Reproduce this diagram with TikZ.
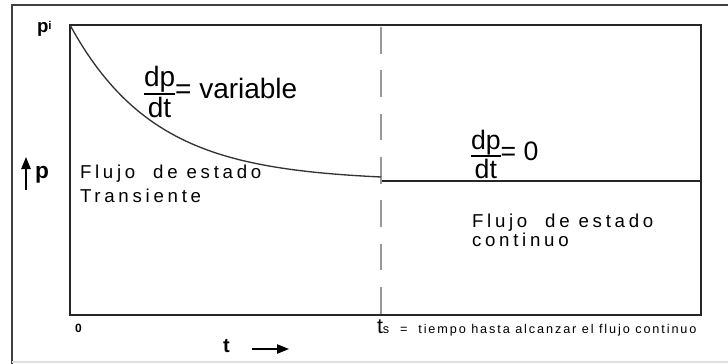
\documentclass[tikz,border=0pt]{standalone}
\usepackage{amsmath}
\usepackage{fontspec}
\setmainfont{Liberation Sans}
\usetikzlibrary{arrows.meta}

\newcommand{\cociente}[2]{\vcenter{\offinterlineskip\halign{\hfil##\hfil\cr #1\cr\noalign{\kern0.5pt\hrule height 1.1pt\kern1.5pt}#2\cr}}}

\begin{document}
\begin{tikzpicture}[x=0.75pt,y=-0.75pt]
	\tikzstyle{marco}=[draw=black!75,line width=1.1pt]
	\tikzstyle{eje}=[draw=black!85,line width=1.5pt]
	\tikzstyle{flecha}=[draw=black,line width=1pt,-{Triangle[length=9pt,width=7pt]}]
	\tikzstyle{etiqueta}=[inner sep=0pt,outer sep=0pt]
	\tikzstyle{flujo}=[etiqueta,align=left,font=\fontsize{14}{17.3}\selectfont\addfontfeatures{LetterSpace=20}]
	\useasboundingbox (0,0) rectangle (728,364);
	% marco exterior
	\draw[marco] (740,5) -- (12,5) -- (12,364);
	\draw[draw=black!12,line width=0.8pt] (12,362) -- (740,362);
	% ejes y regiones
	\coordinate (c0) at (70,25);
	\coordinate (c1) at (381,181);
	\draw[eje] (c0) rectangle (701,315);
	\draw[eje,line width=1.2pt] (c1) -- (701,181);
	\draw[draw=black!40,line width=1.6pt,dash pattern=on 20pt off 12.5pt] (381,27) -- (381,326);
	\draw[draw=black!80,line width=1pt] plot[domain=70:381,samples=60] (\x,{181-156*exp(-(\x-70)/85)});
	% etiquetas
	\node[etiqueta,anchor=base west,font=\fontsize{14}{14}\bfseries\selectfont] (pi) at (37,32) {p\raisebox{1.6pt}{\fontsize{8.5}{8.5}\selectfont i}};
	\node[etiqueta,anchor=base west,font=\fontsize{17}{17}\bfseries\selectfont] (peje) at (35,178) {p};
	\coordinate (pa0) at (26,190);
	\coordinate (pa1) at (26,157);
	\draw[flecha] (pa0) -- (pa1);
	\node[flujo,anchor=base west] (trans) at (80,202) {Flujo~ de estado\\Transiente};
	\node[etiqueta,anchor=west,font=\fontsize{21}{21}\selectfont] (var) at (144,92) {$\cociente{dp}{dt}\text{= variable}$};
	\node[etiqueta,anchor=west,font=\fontsize{20}{20}\selectfont] (cero) at (471,154) {$\cociente{dp}{dt}\text{= 0}$};
	\node[flujo,anchor=base west,font=\fontsize{14}{14}\selectfont\addfontfeatures{LetterSpace=20}] (cont) at (472,246) {Flujo~ de estado\\continuo};
	\node[etiqueta,anchor=base west,font=\fontsize{9}{9}\bfseries\selectfont] (orig) at (75,332) {0};
	\node[etiqueta,anchor=base west,font=\fontsize{9.5}{9.5}\selectfont] (ts) at (377,333) {{\fontsize{16}{16}\selectfont t}s\addfontfeatures{LetterSpace=15}\ \ = \ tiempo hasta alcanzar el flujo continuo};
	\node[etiqueta,anchor=base west,font=\fontsize{15}{15}\bfseries\selectfont] (teje) at (223,352) {t};
	\coordinate (ta0) at (252,349);
	\coordinate (ta1) at (289,349);
	\draw[flecha] (ta0) -- (ta1);
\end{tikzpicture}
\end{document}
